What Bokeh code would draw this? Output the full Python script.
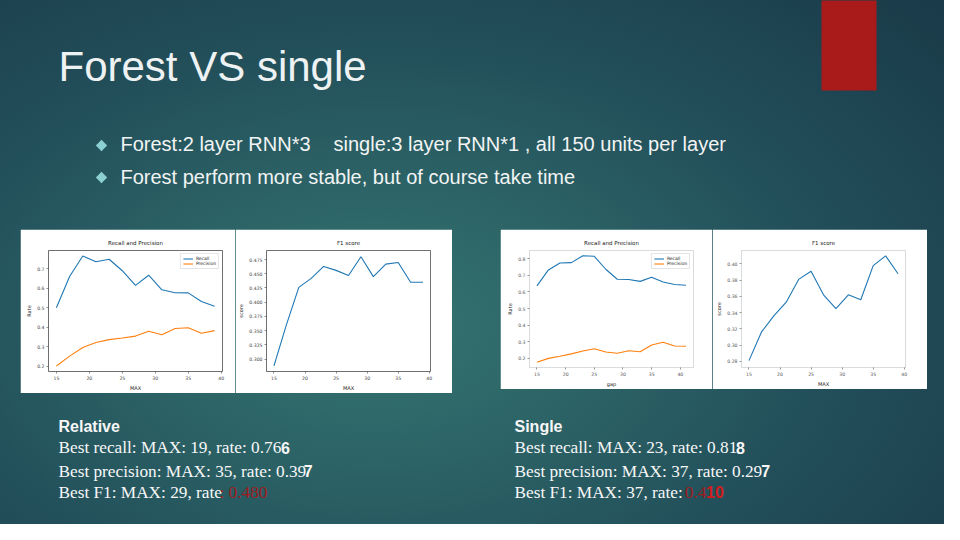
from bokeh.plotting import figure
from bokeh.models import Range1d, FixedTicker, PrintfTickFormatter, Spacer
from bokeh.layouts import column, row
from bokeh.core.properties import value
from bokeh.embed import file_html
from bokeh.resources import INLINE

# ---------------- data ----------------
max_forest = [15, 17, 19, 21, 23, 25, 27, 29, 31, 33, 35, 37, 39]
recall_forest = [0.500, 0.660, 0.766, 0.736, 0.749, 0.690, 0.615, 0.667, 0.592, 0.577, 0.576, 0.532, 0.507]
precision_forest = [0.200, 0.251, 0.295, 0.321, 0.336, 0.344, 0.354, 0.379, 0.361, 0.393, 0.397, 0.369, 0.382]
f1_forest = [0.288, 0.360, 0.426, 0.442, 0.463, 0.456, 0.447, 0.480, 0.445, 0.467, 0.470, 0.435, 0.435]

gap_single = [15, 17, 19, 21, 23, 25, 27, 29, 31, 33, 35, 37, 39, 41]
recall_single = [0.637, 0.733, 0.775, 0.777, 0.818, 0.815, 0.737, 0.677, 0.675, 0.664, 0.689, 0.660, 0.645, 0.641]
precision_single = [0.177, 0.200, 0.213, 0.227, 0.244, 0.258, 0.238, 0.231, 0.246, 0.240, 0.281, 0.297, 0.275, 0.273]
max_single = [15, 17, 19, 21, 23, 25, 27, 29, 31, 33, 35, 37, 39]
f1_single = [0.281, 0.316, 0.336, 0.353, 0.381, 0.391, 0.362, 0.345, 0.362, 0.356, 0.398, 0.410, 0.388]

x_ticks = [15, 20, 25, 30, 35, 40]
rate_ticks_forest = [0.2, 0.3, 0.4, 0.5, 0.6, 0.7]
score_ticks_forest = [0.300, 0.325, 0.350, 0.375, 0.400, 0.425, 0.450, 0.475]
rate_ticks_single = [0.2, 0.3, 0.4, 0.5, 0.6, 0.7, 0.8]
score_ticks_single = [0.28, 0.30, 0.32, 0.34, 0.36, 0.38, 0.40]

title_text = "Forest VS single"
bullet_1a = "Forest:2 layer RNN*3"
bullet_1b = "single:3 layer RNN*1 , all 150 units per layer"
bullet_2 = "Forest perform more stable, but of course take time"

BLUE = "#1f77b4"
ORANGE = "#ff7f0e"
CHART_FONT = "DejaVu Sans"


def subchart(w, h, borders, xr, yr, yticks, yfmt, title, xlabel, ylabel, frame_color, label_color):
    bl, br, bt, bb = borders
    p = figure(width=w, height=h, output_backend="svg", toolbar_location=None,
               x_range=Range1d(*xr), y_range=Range1d(*yr),
               min_border_left=bl, min_border_right=br, min_border_top=bt, min_border_bottom=bb,
               background_fill_color="white", border_fill_color="white",
               title=title)
    p.title.align = "center"
    p.title.vertical_align = "top"
    p.title.text_font = CHART_FONT
    p.title.text_font_size = "5.5px"
    p.title.text_font_style = "normal"
    p.title.text_color = "#222222"
    p.title.standoff = 6
    p.xaxis.axis_label = xlabel
    p.yaxis.axis_label = ylabel
    for ax in (p.xaxis[0], p.yaxis[0]):
        ax.major_label_text_font = CHART_FONT
        ax.major_label_text_font_size = "4.6px"
        ax.major_label_text_color = label_color
        ax.axis_label_text_font = CHART_FONT
        ax.axis_label_text_font_size = "5px"
        ax.axis_label_text_font_style = "normal"
        ax.axis_label_text_color = "#222222"
        ax.axis_line_color = None
        ax.major_tick_line_color = label_color
        ax.major_tick_line_width = 0.6
        ax.major_tick_out = 2
        ax.major_tick_in = 0
        ax.minor_tick_line_color = None
        ax.major_label_standoff = 2
        ax.axis_label_standoff = 2
    p.xaxis.ticker = FixedTicker(ticks=x_ticks)
    p.yaxis.ticker = FixedTicker(ticks=yticks)
    p.yaxis.formatter = PrintfTickFormatter(format=yfmt)
    p.xgrid.visible = False
    p.ygrid.visible = False
    p.outline_line_color = frame_color
    p.outline_line_width = 0.8
    return p


def style_legend(p):
    lg = p.legend[0]
    lg.location = "top_right"
    lg.label_text_font = CHART_FONT
    lg.label_text_font_size = "4.5px"
    lg.label_text_color = "#222222"
    lg.glyph_width = 10
    lg.glyph_height = 5
    lg.label_height = 5
    lg.label_standoff = 3
    lg.spacing = 0
    lg.padding = 2
    lg.margin = 3
    lg.border_line_color = "#cccccc"
    lg.border_line_width = 0.5
    lg.background_fill_alpha = 0.8


# ---------------- charts ----------------
c1 = subchart(215, 164, (28, 13, 21, 18), (13.8, 40.2), (0.172, 0.794), rate_ticks_forest, "%.1f",
              "Recall and Precision", "MAX", "Rate", "#555555", "#444444")
c1.line(max_forest, recall_forest, line_color=BLUE, line_width=1.1, legend_label="Recall")
c1.line(max_forest, precision_forest, line_color=ORANGE, line_width=1.1, legend_label="Precision")
style_legend(c1)

c2 = subchart(217, 164, (26, 22, 20, 19), (13.8, 40.2), (0.278, 0.491), score_ticks_forest, "%.3f",
              "F1 score", "MAX", "score", "#555555", "#444444")
c2.line(max_forest, f1_forest, line_color=BLUE, line_width=1.1)

c3 = subchart(212, 160, (29, 19, 20, 20), (13.7, 42.3), (0.145, 0.850), rate_ticks_single, "%.1f",
              "Recall and Precision", "gap", "Rate", "#dddddd", "#555555")
c3.line(gap_single, recall_single, line_color=BLUE, line_width=1.1, legend_label="Recall")
c3.line(gap_single, precision_single, line_color=ORANGE, line_width=1.1, legend_label="Precision")
style_legend(c3)

c4 = subchart(215, 160, (29, 22, 20, 20), (13.8, 40.2), (0.2725, 0.4166), score_ticks_single, "%.2f",
              "F1 score", "MAX", "score", "#dddddd", "#555555")
c4.line(max_single, f1_single, line_color=BLUE, line_width=1.1)

# ---------------- slide top (screen coordinates) ----------------
top = figure(width=944, height=229, output_backend="svg", toolbar_location=None,
             x_range=Range1d(0, 944), y_range=Range1d(229, 0),
             x_axis_type=None, y_axis_type=None, min_border=0,
             background_fill_alpha=0, border_fill_alpha=0, outline_line_color=None)
top.grid.visible = False
top.quad(left=[821], right=[876], top=[-5], bottom=[90], fill_color="#a81b1a", line_color=None)
top.text(x=[58], y=[65.5], text=[title_text], text_font=value("Liberation Sans"),
         text_font_size="42px", text_color="#eef2f3", text_baseline="middle", text_align="left")
top.scatter(x=[101, 101], y=[145, 177], marker="square", size=8, angle=0.785398,
            fill_color="#8dd0d3", line_color=None)
top.text(x=[120, 333, 120], y=[143, 143, 176.3], text=[bullet_1a, bullet_1b, bullet_2],
         text_font=value("Liberation Sans"), text_font_size="20px", text_color="#f2f4f4",
         text_baseline="middle", text_align="left")

# ---------------- slide middle ----------------
middle = row(Spacer(width=20, height=164), c1, c2, Spacer(width=48, height=164), c3, c4,
             Spacer(width=17, height=164))

# ---------------- slide bottom ----------------
bot = figure(width=944, height=131, output_backend="svg", toolbar_location=None,
             x_range=Range1d(0, 944), y_range=Range1d(524, 393),
             x_axis_type=None, y_axis_type=None, min_border=0,
             background_fill_alpha=0, border_fill_alpha=0, outline_line_color=None)
bot.grid.visible = False

WHITE = "#f7f7f7"
DIMRED = "#a01b1e"
RED = "#d21c1c"
line_y = [447.3, 470.7, 491.7]

# headings
bot.text(x=[58, 514], y=[425.5, 425.5], text=["Relative", "Single"], text_font=value("Liberation Sans"),
         text_font_style="bold", text_font_size="16px", text_color=WHITE, text_baseline="middle")
# serif lines
bot.text(x=[58, 58, 58, 514, 514, 514], y=line_y + line_y,
         text=["Best recall: MAX: 19, rate: 0.76", "Best precision: MAX: 35, rate: 0.39", "Best F1: MAX: 29, rate",
               "Best recall: MAX: 23, rate: 0.81", "Best precision: MAX: 37, rate: 0.29", "Best F1: MAX: 37, rate: "],
         text_font=value("Liberation Serif"), text_font_size="17.25px", text_color=WHITE,
         text_baseline="middle")
# bold sans last digits
bot.text(x=[280.5, 303.3, 735.5, 760.7], y=[line_y[0], line_y[1], line_y[0], line_y[1]],
         text=["6", "7", "8", "7"], text_font=value("Liberation Sans"), text_font_style="bold",
         text_font_size="16px", text_color=WHITE, text_baseline="middle")
# red F1 values
bot.text(x=[219, 684.3], y=[line_y[2], line_y[2]], text=[": 0.480", "0.4"],
         text_font=value("Liberation Serif"), text_font_size="17.25px", text_color=DIMRED,
         text_baseline="middle")
bot.text(x=[705.5], y=[line_y[2]], text=["10"], text_font=value("Liberation Sans"),
         text_font_style="bold", text_font_size="16px", text_color=RED, text_baseline="middle")

page = column(top, middle, bot, width=944, height=524,
              styles={"background": "radial-gradient(ellipse 80% 90% at 40% 62%, #357470 0%, #2c6366 30%, #224f5a 60%, #1a3b49 100%)"})

open("out.html", "w").write(file_html(page, INLINE))
